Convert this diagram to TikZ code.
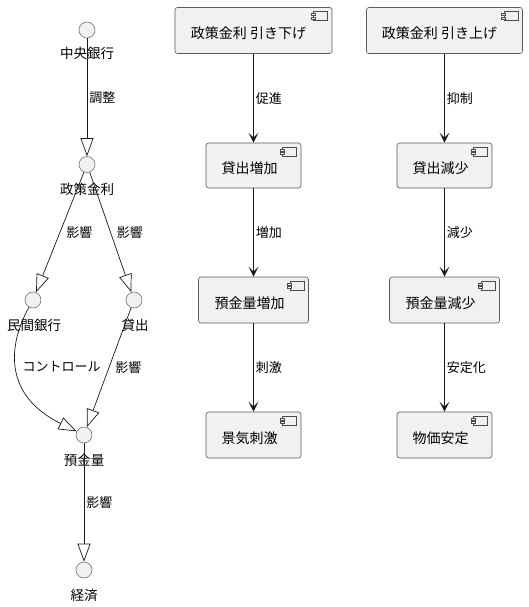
\documentclass[tikz,border=0pt]{standalone}
\usepackage{fontspec}
\setmainfont{Noto Sans CJK JP}
\usetikzlibrary{arrows.meta}
\definecolor{boxfill}{HTML}{F1F1F1}
\newcommand\compicon[1]{%
  \draw[black!70, line width=0.5pt, fill=boxfill] ([shift={(-19,4.5)}]#1.north east) rectangle ++(14,9);
  \draw[black!70, line width=0.5pt, fill=boxfill] ([shift={(-21.5,6.5)}]#1.north east) rectangle ++(4,2);
  \draw[black!70, line width=0.5pt, fill=boxfill] ([shift={(-21.5,9.8)}]#1.north east) rectangle ++(4,2);
}
\begin{document}
\begin{tikzpicture}[x=1pt,y=-1pt,
  dot/.style={circle, draw=black!55, fill=boxfill, line width=0.6pt, minimum size=16pt, inner sep=0pt},
  dotlbl/.style={font=\fontsize{13.5}{16}\selectfont, inner sep=0pt},
  elbl/.style={font=\fontsize{13}{15}\selectfont, inner sep=0pt, anchor=west},
  comp/.style={draw=black!65, fill=boxfill, rounded corners=2.5pt, line width=0.6pt, inner sep=0pt},
  ctxt/.style={font=\fontsize{14}{16}\selectfont, inner sep=0pt},
  opentri/.style={-{Triangle[open, length=18pt, width=13pt, fill=white]}, line width=0.7pt, draw=black!90},
  flow/.style={-{Stealth[length=10pt, width=10pt, inset=5pt]}, line width=0.9pt, draw=black!90},
]
\fill[white] (0,0) rectangle (528,607);
\useasboundingbox (0,0) rectangle (528,607);

% left column: circles and their labels
\node[dotlbl] (cbl) at (87,53) {中央銀行};
\node[dotlbl] (prl) at (87,189) {政策金利};
\node[dotlbl] (mbl) at (34,325) {民間銀行};
\node[dotlbl] (lsl) at (135,325) {貸出};
\node[dotlbl] (dpl) at (84,460) {預金量};
\node[dotlbl] (ecl) at (84,595) {経済};

\node[dot] (cb) at (87,30) {};
\node[dot] (pr) at (87,164.5) {};
\node[dot] (mb) at (33,300) {};
\node[dot] (ls) at (134,300) {};
\node[dot] (dp) at (84,435) {};
\node[dot] (ec) at (84,570) {};

\draw[opentri] (cb) -- node[elbl, pos=0.5, xshift=2pt] (e1) {調整} (pr);
\draw[opentri] (pr) -- node[elbl, pos=0.5, xshift=6pt] (e2) {影響} (mb);
\draw[opentri] (pr) -- node[elbl, pos=0.5, xshift=6pt] (e3) {影響} (ls);
\draw[opentri] (mb) .. controls (8,345) and (3,395) .. node[elbl, pos=0.5, xshift=5pt, yshift=3pt] (e4) {コントロール} (dp);
\draw[opentri] (ls) -- node[elbl, pos=0.5, xshift=6pt] (e5) {影響} (dp);
\draw[opentri] (dp) -- node[elbl, pos=0.5, xshift=2pt] (e6) {影響} (ec);

% components, left chain
\node[comp, minimum width=157pt, minimum height=46pt] (a1) at (253.5,30.5) {};
\node[comp, minimum width=95pt, minimum height=45pt] (a2) at (253.5,165.5) {};
\node[comp, minimum width=110pt, minimum height=46pt] (a3) at (253.5,300) {};
\node[comp, minimum width=95pt, minimum height=46pt] (a4) at (253.5,435) {};
\node[ctxt] (a1t) at ([shift={(-5,3)}]a1.center) {政策金利 引き下げ};
\node[ctxt] (a2t) at ([shift={(-4,3)}]a2.center) {貸出増加};
\node[ctxt] (a3t) at ([shift={(-4,3)}]a3.center) {預金量増加};
\node[ctxt] (a4t) at ([shift={(-4,3)}]a4.center) {景気刺激};
\compicon{a1}\compicon{a2}\compicon{a3}\compicon{a4}

\draw[flow] (a1) -- node[elbl, pos=0.5, xshift=2pt] (f1) {促進} (a2);
\draw[flow] (a2) -- node[elbl, pos=0.5, xshift=2pt] (f2) {増加} (a3);
\draw[flow] (a3) -- node[elbl, pos=0.5, xshift=2pt] (f3) {刺激} (a4);

% components, right chain
\node[comp, minimum width=156pt, minimum height=46pt] (b1) at (444.5,30.5) {};
\node[comp, minimum width=95pt, minimum height=45pt] (b2) at (444.5,165.5) {};
\node[comp, minimum width=110pt, minimum height=46pt] (b3) at (444.5,300) {};
\node[comp, minimum width=95pt, minimum height=46pt] (b4) at (444.5,435) {};
\node[ctxt] (b1t) at ([shift={(-5,3)}]b1.center) {政策金利 引き上げ};
\node[ctxt] (b2t) at ([shift={(-4,3)}]b2.center) {貸出減少};
\node[ctxt] (b3t) at ([shift={(-4,3)}]b3.center) {預金量減少};
\node[ctxt] (b4t) at ([shift={(-4,3)}]b4.center) {物価安定};
\compicon{b1}\compicon{b2}\compicon{b3}\compicon{b4}

\draw[flow] (b1) -- node[elbl, pos=0.5, xshift=2pt] (g1) {抑制} (b2);
\draw[flow] (b2) -- node[elbl, pos=0.5, xshift=2pt] (g2) {減少} (b3);
\draw[flow] (b3) -- node[elbl, pos=0.5, xshift=2pt] (g3) {安定化} (b4);
\end{tikzpicture}
\end{document}
